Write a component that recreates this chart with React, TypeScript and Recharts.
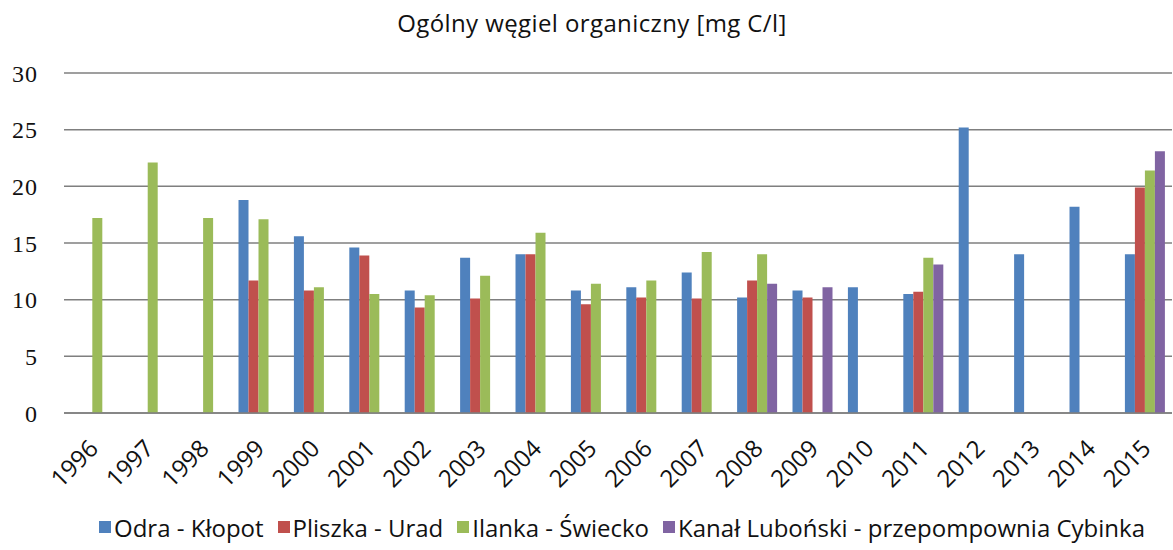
import { BarChart, Bar, XAxis, YAxis, CartesianGrid, Legend } from 'recharts';

const years = ['1996', '1997', '1998', '1999', '2000', '2001', '2002', '2003', '2004', '2005', '2006', '2007', '2008', '2009', '2010', '2011', '2012', '2013', '2014', '2015'];

// null = no measurement that year (slot stays empty, like in Excel)
const odra = [null, null, null, 18.8, 15.6, 14.6, 10.8, 13.7, 14.0, 10.8, 11.1, 12.4, 10.2, 10.8, 11.1, 10.5, 25.2, 14.0, 18.2, 14.0];
const pliszka = [null, null, null, 11.7, 10.8, 13.9, 9.3, 10.1, 14.0, 9.6, 10.2, 10.1, 11.7, 10.2, null, 10.7, null, null, null, 19.9];
const ilanka = [17.2, 22.1, 17.2, 17.1, 11.1, 10.5, 10.4, 12.1, 15.9, 11.4, 11.7, 14.2, 14.0, null, null, 13.7, null, null, null, 21.4];
const kanal = [null, null, null, null, null, null, null, null, null, null, null, null, 11.4, 11.1, null, 13.1, null, null, null, 23.1];

const yTicks = [0, 5, 10, 15, 20, 25, 30];

const seriesNames = ['Odra - Kłopot', 'Pliszka - Urad', 'Ilanka - Świecko', 'Kanał Luboński - przepompownia Cybinka'];
const seriesColors = ['#4F81BD', '#C0504D', '#9BBB59', '#8064A2'];
const seriesKeys = ['odra', 'pliszka', 'ilanka', 'kanal'];

const data = years.map((year, i) => ({
  year,
  odra: odra[i],
  pliszka: pliszka[i],
  ilanka: ilanka[i],
  kanal: kanal[i],
}));

const FONT = '"Open Sans", Lato, sans-serif';

const YearTick = (props: any) => {
  const { x, y, payload } = props;
  // rotated label, its end sits just right of the category centre
  return (
    <g transform={`translate(${x + 8}, ${y + 37}) rotate(-45)`}>
      <text x={0} y={0} textAnchor="end" fontFamily={FONT} fontSize={24} fill="#111">
        {payload.value}
      </text>
    </g>
  );
};

const LegendContent = () => (
  <div style={{ display: 'flex', alignItems: 'center', height: 30, paddingLeft: 99, fontFamily: FONT, fontSize: 24, color: '#111', whiteSpace: 'nowrap' }}>
    {seriesNames.map((name, i) => (
      <span key={name} style={{ display: 'flex', alignItems: 'center', marginRight: 14 }}>
        <span style={{ display: 'inline-block', width: 12, height: 12, background: seriesColors[i], marginRight: 3 }} />
        {name}
      </span>
    ))}
  </div>
);

export default function App() {
  return (
    <div style={{ position: 'absolute', left: 0, top: 0, width: 1173, height: 550, background: '#fff' }}>
      <div style={{ position: 'absolute', top: 6, left: 0, width: 1184, textAlign: 'center', fontFamily: FONT, fontSize: 24, letterSpacing: 0.4, color: '#111' }}>
        Ogólny węgiel organiczny [mg C/l]
      </div>
      <BarChart
        width={1173}
        height={550}
        data={data}
        margin={{ top: 73, right: 1, left: 0, bottom: 8 }}
        barCategoryGap="15%"
        barGap={0}
      >
        <CartesianGrid vertical={false} stroke="#7f7f7f" strokeWidth={1.5} />
        <XAxis
          dataKey="year"
          height={99}
          interval={0}
          tickLine={false}
          tickSize={0}
          tickMargin={0}
          axisLine={{ stroke: '#7f7f7f', strokeWidth: 1.5 }}
          tick={<YearTick />}
        />
        <YAxis
          width={64}
          domain={[0, 30]}
          ticks={yTicks}
          axisLine={false}
          tickLine={false}
          tickSize={0}
          tickMargin={26}
          tick={{ fontFamily: '"Liberation Serif", serif', fontSize: 24, letterSpacing: 1, fill: '#111' }}
        />
        <Legend verticalAlign="bottom" align="left" content={<LegendContent />} wrapperStyle={{ left: 0, width: 1173, height: 30 }} />
        {seriesKeys.map((key, i) => (
          <Bar key={key} dataKey={key} name={seriesNames[i]} fill={seriesColors[i]} isAnimationActive={false} />
        ))}
      </BarChart>
    </div>
  );
}
